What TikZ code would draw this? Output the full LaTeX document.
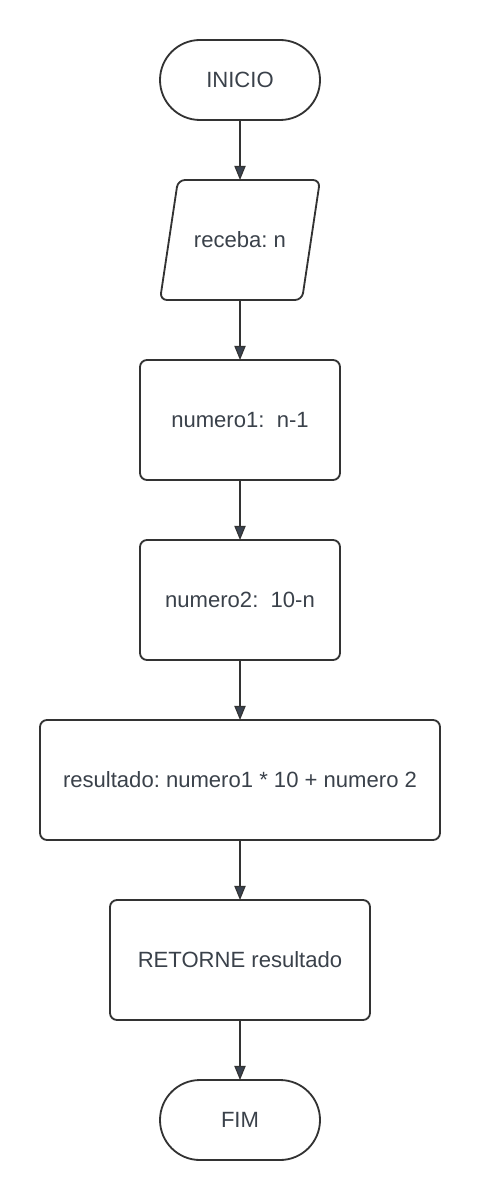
\documentclass[tikz,border=0pt]{standalone}
\usepackage{fontspec}
\setmainfont{Liberation Sans}
\frenchspacing
\usetikzlibrary{
  arrows.meta,
  positioning
}
\definecolor{inkline}{HTML}{333333}
\definecolor{inktext}{HTML}{3A414A}
\definecolor{inkarrow}{HTML}{3A4350}
\tikzset{
  % Common look of all flowchart blocks.
  block/.style={
    draw=inkline,
    line width=1.3pt,
    text=inktext,
    font=\fontsize{15.7pt}{18pt}\selectfont,
    inner sep=0pt,
    outer sep=0pt},
%
  % For start and end blocks.
  terminal/.style={
    block,
    minimum width=4cm,
    minimum height=2cm,
    rounded corners=1cm},
%
  % For process boxes.
  process/.style={
    block,
    minimum height=3cm,
    rounded corners=5pt},
%
  % Invisible frame around the input block, the slanted outline is drawn
  % separately from its corners.
  inputframe/.style={
    block,
    draw=none,
    minimum width=4cm,
    minimum height=3cm},
%
  % For the outline of the input block.
  slanted/.style={
    draw=inkline,
    line width=1.3pt,
    rounded corners=5pt},
%
  % For connectors between blocks.
  flow/.style={
    draw=inkline,
    line width=0.8pt,
    -{Triangle[length=10pt,width=8pt,fill=inkarrow]}},
%
  node distance=1.5cm
}

\begin{document}
\begin{tikzpicture}
  \useasboundingbox (0,0) rectangle (12,-30);

  \node[terminal] (start) at (6,-2) {INICIO};
  \node[inputframe, below=of start] (input) {receba: n};
  \draw[slanted]
    ([xshift=0.45cm]input.north west) -- (input.north east)
      -- ([xshift=-0.45cm]input.south east) -- (input.south west) -- cycle;
  \node[process, minimum width=5cm, below=of input] (first) {numero1:\ \ n-1};
  \node[process, minimum width=5cm, below=of first] (second) {numero2:\ \ 10-n};
  \node[process, minimum width=10cm, below=of second] (result)
    {resultado: numero1 * 10 + numero 2};
  \node[process, minimum width=6.5cm, below=of result] (return)
    {RETORNE resultado};
  \node[terminal, below=of return] (stop) {FIM};

  \foreach \a/\b in {start/input, input/first, first/second,
                     second/result, result/return, return/stop}
    \draw[flow] (\a.south) -- (\b.north);
\end{tikzpicture}
\end{document}
